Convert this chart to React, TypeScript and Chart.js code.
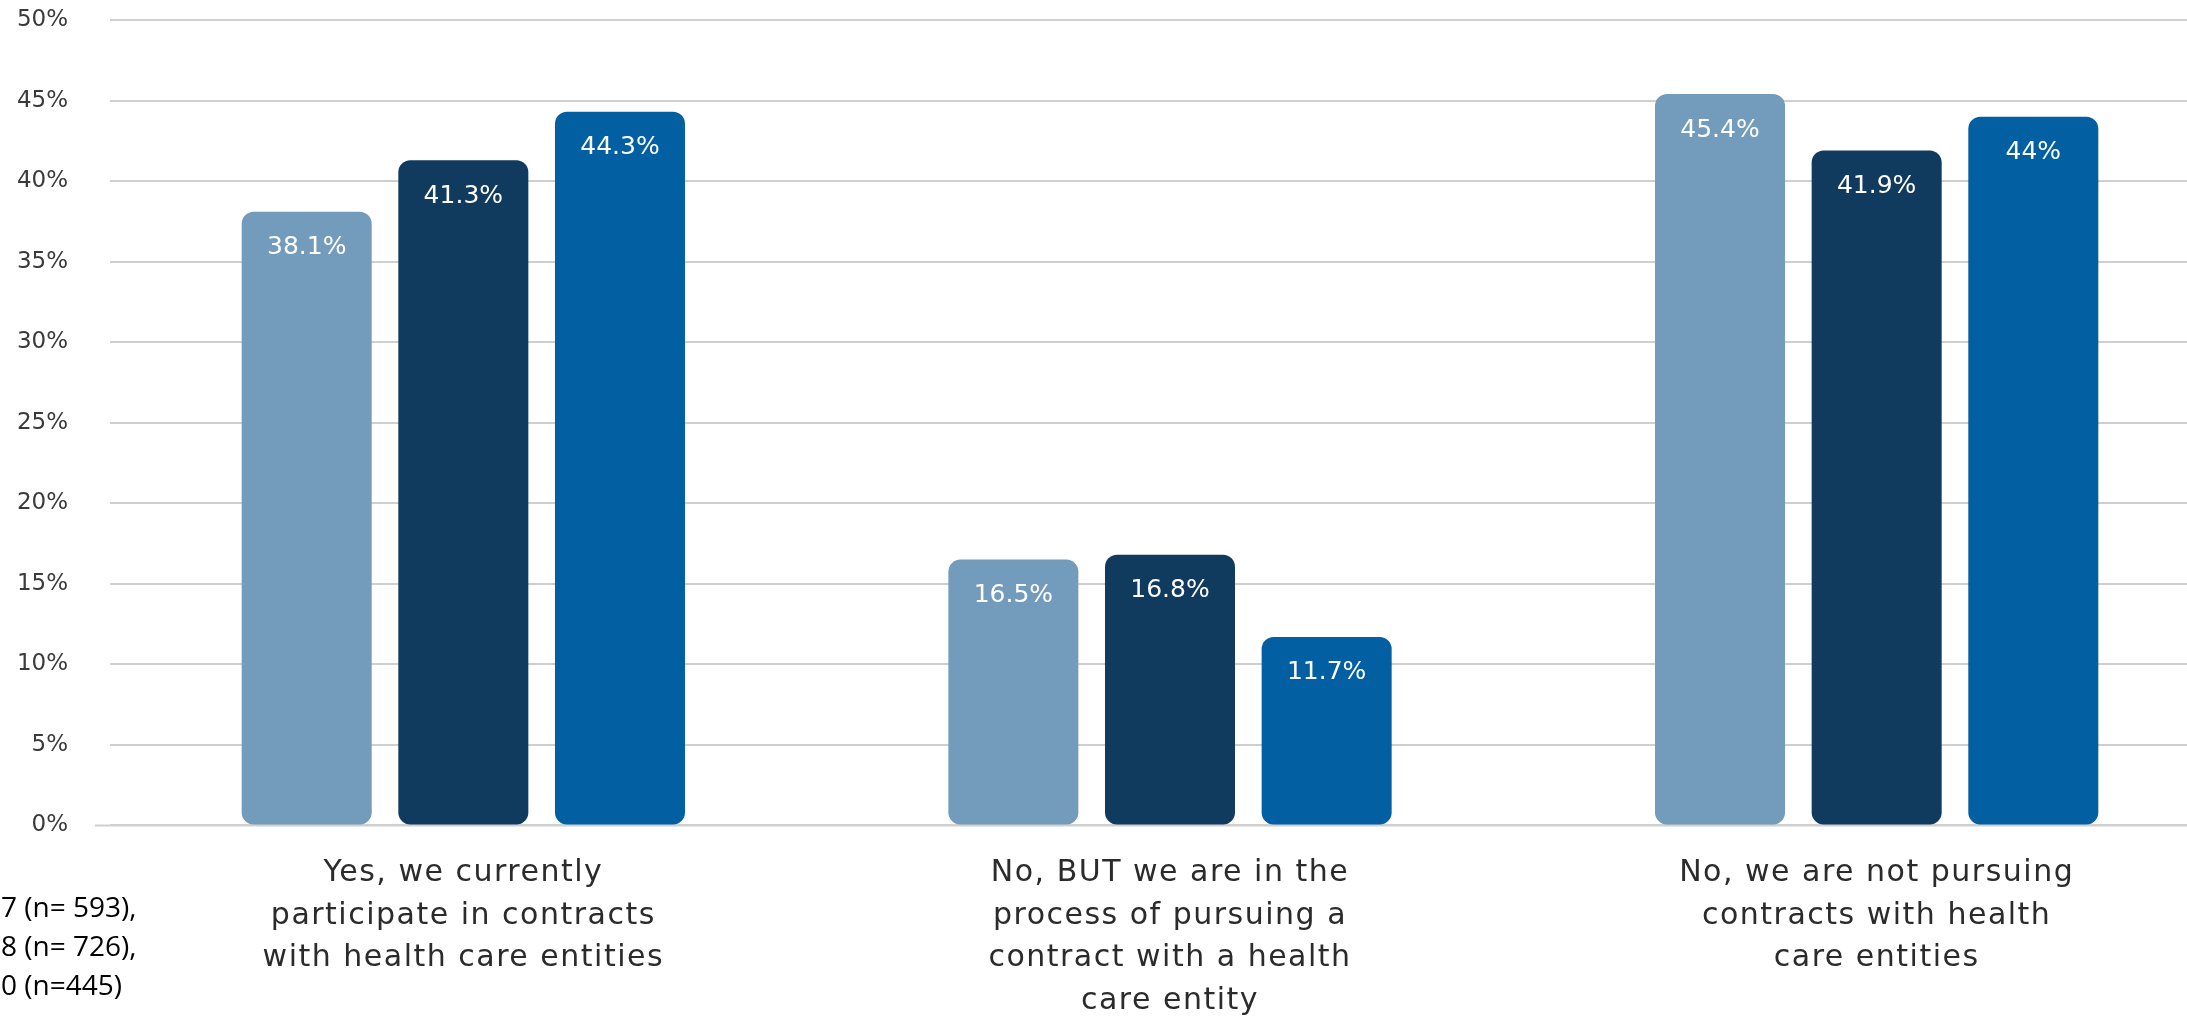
import React, { useEffect, useRef } from 'react';
import { Chart, registerables } from 'chart.js';

Chart.register(...registerables);

const categories: string[][] = [
  ['Yes, we currently', 'participate in contracts', 'with health care entities'],
  ['No, BUT we are in the', 'process of pursuing a', 'contract with a health', 'care entity'],
  ['No, we are not pursuing', 'contracts with health', 'care entities'],
];
const seriesNames = ['2017 (n= 593),', '2018 (n= 726),', '2020 (n=445)'];
const series2017 = [38.1, 16.5, 45.4];
const series2018 = [41.3, 16.8, 41.9];
const series2020 = [44.3, 11.7, 44];
const seriesColors = ['#739BBC', '#113B5E', '#015FA2'];
const yMin = 0;
const yMax = 50;
const yStep = 5;

const FONT = '"DejaVu Sans", sans-serif';
const X_FONT_SIZE = 30;
const X_LINE_HEIGHT = 1.43;
const X_PAD = 26;

const zeroLinePlugin = {
  id: 'zeroLine',
  beforeDatasetsDraw(chart: any) {
    const ctx = chart.ctx;
    const y = chart.scales.y.getPixelForValue(0);
    ctx.save();
    ctx.strokeStyle = '#cfcfcf';
    ctx.lineWidth = 2;
    ctx.beginPath();
    ctx.moveTo(95, y);
    ctx.lineTo(chart.chartArea.right, y);
    ctx.stroke();
    ctx.restore();
  },
};

const valueLabelPlugin = {
  id: 'valueLabels',
  afterDatasetsDraw(chart: any) {
    const ctx = chart.ctx;
    ctx.save();
    ctx.font = `25px ${FONT}`;
    ctx.fillStyle = '#ffffff';
    ctx.textAlign = 'center';
    ctx.textBaseline = 'middle';
    chart.data.datasets.forEach((ds: any, i: number) => {
      chart.getDatasetMeta(i).data.forEach((bar: any, j: number) => {
        ctx.fillText(`${ds.data[j]}%`, bar.x, bar.y + 36);
      });
    });
    ctx.restore();
  },
};

const xLabelPlugin = {
  id: 'xLabels',
  afterDraw(chart: any) {
    const ctx = chart.ctx;
    const xs = chart.scales.x;
    const lh = X_FONT_SIZE * X_LINE_HEIGHT;
    ctx.save();
    (ctx as any).letterSpacing = '1.5px';
    ctx.font = `${X_FONT_SIZE}px ${FONT}`;
    ctx.fillStyle = '#2b2b2b';
    ctx.textAlign = 'center';
    ctx.textBaseline = 'middle';
    categories.forEach((lines, i) => {
      const x = xs.getPixelForTick(i);
      lines.forEach((line, k) => {
        ctx.fillText(line, x, chart.chartArea.bottom + X_PAD + lh / 2 + k * lh);
      });
    });
    ctx.restore();
  },
};

const seriesNotePlugin = {
  id: 'seriesNote',
  afterDraw(chart: any) {
    const ctx = chart.ctx;
    ctx.save();
    ctx.font = `28px "Open Sans", sans-serif`;
    ctx.fillStyle = '#000000';
    ctx.textAlign = 'left';
    ctx.textBaseline = 'middle';
    seriesNames.forEach((name, i) => {
      const hidden = ctx.measureText(name.slice(0, 3)).width;
      ctx.fillText(name, -hidden + 1, 909 + i * 39);
    });
    ctx.restore();
  },
};

export default function App() {
  const ref = useRef<HTMLCanvasElement>(null);

  useEffect(() => {
    if (!ref.current) return;
    const chart = new Chart(ref.current, {
      type: 'bar',
      data: {
        labels: categories,
        datasets: [series2017, series2018, series2020].map((d, i) => ({
          label: seriesNames[i],
          data: d,
          backgroundColor: seriesColors[i],
          borderRadius: 12,
          borderSkipped: false,
          categoryPercentage: 0.665,
          barPercentage: 0.83,
        })),
      },
      options: {
        responsive: false,
        animation: false,
        devicePixelRatio: 1,
        layout: { padding: { top: 20, bottom: 1, left: 0, right: 0 } },
        plugins: { legend: { display: false }, tooltip: { enabled: false } },
        scales: {
          x: {
            afterFit(scale: any) {
              scale.height = X_PAD + 4 * X_FONT_SIZE * X_LINE_HEIGHT;
            },
            grid: { display: false, drawTicks: false },
            border: { display: false },
            ticks: {
              autoSkip: false,
              maxRotation: 0,
              minRotation: 0,
              padding: X_PAD,
              color: 'rgba(0,0,0,0)',
              font: { family: FONT, size: X_FONT_SIZE, lineHeight: X_LINE_HEIGHT },
            },
          },
          y: {
            min: yMin,
            max: yMax,
            afterFit(scale: any) {
              scale.width = 110;
            },
            grid: {
              color: '#cfcfcf',
              lineWidth: 2,
              drawTicks: true,
              tickLength: 42,
              tickColor: 'rgba(0,0,0,0)',
            },
            border: { display: false },
            ticks: {
              stepSize: yStep,
              padding: 0,
              color: '#3a3a3a',
              font: { family: FONT, size: 23 },
              callback: (v: any) => `${v}%`,
            },
          },
        },
      },
      plugins: [zeroLinePlugin, valueLabelPlugin, xLabelPlugin, seriesNotePlugin],
    } as any);
    return () => chart.destroy();
  }, []);

  return (
    <div
      style={{
        position: 'fixed',
        left: 0,
        top: 0,
        width: 2187,
        height: 1024,
        overflow: 'hidden',
        background: '#ffffff',
      }}
    >
      <canvas ref={ref} width={2230} height={1024} style={{ width: 2230, height: 1024, display: 'block' }} />
    </div>
  );
}
